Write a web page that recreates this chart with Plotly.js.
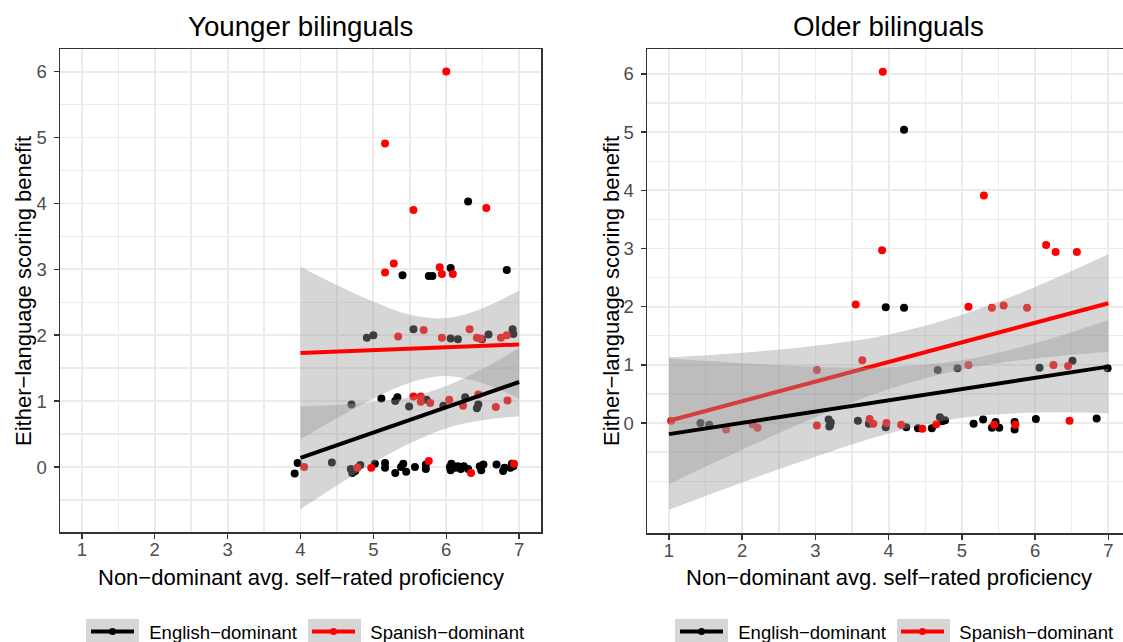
<!DOCTYPE html>
<html><head><meta charset="utf-8">
<script src="https://cdn.plot.ly/plotly-3.0.1.min.js"></script>
<style>html,body{margin:0;padding:0;background:#fff}#chart{width:1123px;height:642px}</style>
</head><body><div id="chart"></div>
<script>
// ---------- Data ----------
const groupNames = ['English\u2212dominant', 'Spanish\u2212dominant'];
const panelTitles = ['Younger bilinguals', 'Older bilinguals'];
const xTitle = 'Non\u2212dominant avg. self\u2212rated proficiency';
const yTitle = 'Either\u2212language scoring benefit';
const xTicks = [1, 2, 3, 4, 5, 6, 7];
const yTicks = [0, 1, 2, 3, 4, 5, 6];

// Younger bilinguals, English-dominant points
const youngEngX = [6.30, 5.40, 5.76, 5.81, 6.06, 6.83,
  4.91, 5.00, 5.55, 6.06, 6.16, 6.49, 6.58, 6.91, 6.92,
  4.70, 5.11, 5.30, 5.33, 5.49, 5.73, 5.96, 6.26, 6.42, 6.44,
  3.96, 3.92, 4.43, 4.69, 4.71, 4.82, 4.75, 5.02, 5.16, 5.16, 5.30, 5.41, 5.38, 5.45, 5.57, 5.72, 5.72,
  6.05, 6.07, 6.06, 6.10, 6.13, 6.16, 6.20, 6.24, 6.30, 6.48, 6.51, 6.46, 6.69, 6.78, 6.80, 6.90, 6.92, 6.88];
const youngEngY = [4.03, 2.91, 2.90, 2.90, 3.02, 2.99,
  1.96, 2.00, 2.09, 1.95, 1.94, 1.94, 2.01, 2.09, 2.02,
  0.95, 1.04, 1.00, 1.06, 0.92, 1.02, 0.93, 1.06, 0.89, 0.95,
  0.06, -0.10, 0.07, -0.03, -0.09, 0.03, -0.06, 0.05, 0.06, -0.01, -0.09, 0.05, 0.00, -0.07, 0.00, 0.04, -0.03,
  0.00, 0.05, -0.05, 0.01, -0.01, 0.01, -0.03, 0.01, -0.03, -0.05, 0.04, 0.01, 0.04, -0.06, -0.01, 0.05, 0.01, -0.01];

// Younger bilinguals, Spanish-dominant points
const youngSpaX = [6.00, 5.16, 5.55, 6.55, 5.28, 5.16, 5.91, 5.94, 6.09,
  5.34, 5.69, 5.94, 6.32, 6.42, 6.47, 6.75, 6.83,
  5.55, 5.65, 5.65, 5.78, 6.04, 6.23, 6.44, 6.68, 6.84,
  4.05, 4.78, 4.97, 5.76, 6.34, 6.93];
const youngSpaY = [6.00, 4.91, 3.90, 3.93, 3.09, 2.95, 3.03, 2.93, 2.93,
  1.98, 2.08, 1.96, 2.09, 1.96, 1.95, 1.96, 2.00,
  1.07, 1.07, 0.99, 0.97, 1.02, 0.93, 1.10, 0.91, 1.01,
  0.00, -0.01, -0.01, 0.09, -0.09, 0.05];

// Older bilinguals, English-dominant points
const oldEngX = [4.21, 3.96, 4.21, 4.67, 4.94, 6.06, 6.51, 6.99,
  1.43, 1.55, 3.18, 3.20, 3.21, 3.19, 3.58, 3.73, 3.96, 4.24, 4.40, 4.59, 4.70, 4.73, 4.77,
  5.16, 5.29, 5.41, 5.46, 5.51, 5.72, 5.72, 6.01, 6.84];
const oldEngY = [5.04, 1.99, 1.98, 0.91, 0.94, 0.95, 1.07, 0.94,
  0.00, -0.03, 0.06, -0.04, 0.01, -0.06, 0.04, -0.01, -0.07, -0.07, -0.09, -0.09, 0.10, 0.03, 0.05,
  -0.01, 0.06, -0.08, 0.02, -0.08, 0.02, -0.11, 0.07, 0.08];

// Older bilinguals, Spanish-dominant points
const oldSpaX = [3.92, 5.30, 3.91, 6.15, 6.28, 6.57,
  3.55, 5.09, 5.41, 5.57, 5.89,
  3.02, 3.64, 5.09, 6.25, 6.45,
  1.03, 1.78, 2.14, 2.21, 3.02, 3.74, 3.79, 3.97, 4.17, 4.46, 4.65, 5.44, 5.73, 6.47];
const oldSpaY = [6.04, 3.91, 2.97, 3.06, 2.94, 2.94,
  2.04, 2.00, 1.98, 2.02, 1.98,
  0.91, 1.08, 1.00, 1.00, 0.98,
  0.04, -0.11, -0.02, -0.08, -0.04, 0.07, -0.01, 0.00, -0.03, -0.10, -0.02, -0.03, -0.03, 0.04];

// Fitted lines (endpoints) and confidence bands
const youngFitX = [4, 7];
const youngEngFit = [0.14, 1.29];
const youngSpaFit = [1.73, 1.86];
const youngBandX = [4, 4.5, 5, 5.5, 6, 6.5, 7];
const youngEngLo = [-0.64, -0.28, 0.06, 0.36, 0.59, 0.71, 0.77];
const youngEngHi = [0.92, 0.94, 0.99, 1.06, 1.23, 1.49, 1.81];
const youngSpaLo = [0.42, 0.74, 1.04, 1.28, 1.38, 1.27, 1.04];
const youngSpaHi = [3.04, 2.76, 2.51, 2.31, 2.26, 2.41, 2.68];

const oldFitX = [1, 7];
const oldEngFit = [-0.19, 0.97];
const oldSpaFit = [0.04, 2.06];
const oldBandX = [1, 2, 3, 4, 5, 6, 7];
const oldEngLo = [-1.49, -1.02, -0.58, -0.18, 0.09, 0.18, 0.17];
const oldEngHi = [1.11, 1.03, 0.97, 0.96, 1.08, 1.37, 1.77];
const oldSpaLo = [-1.05, -0.46, 0.10, 0.58, 0.92, 1.11, 1.22];
const oldSpaHi = [1.13, 1.21, 1.33, 1.52, 1.86, 2.34, 2.90];

// ---------- Styling ----------
const W = 1123, H = 642;
const FONT = 'Liberation Sans, Arial, Helvetica, sans-serif';
const ENG = '#000000', SPA = '#FF0000';
const BAND = 'rgba(153,153,153,0.4)';
const GRID = '#EBEBEB';
const px = v => v / W;
const py = v => 1 - v / H;
const NB = '\u00A0';

function pts(x, y, color, xa, ya) {
  return {type: 'scatter', mode: 'markers', x: x, y: y, xaxis: xa, yaxis: ya,
    marker: {color: color, size: 8, line: {width: 0}}, showlegend: false, hoverinfo: 'skip'};
}
function band(x, lo, hi, xa, ya) {
  return [
    {type: 'scatter', mode: 'lines', x: x, y: lo, xaxis: xa, yaxis: ya,
      line: {width: 0, shape: 'spline', smoothing: 1}, showlegend: false, hoverinfo: 'skip'},
    {type: 'scatter', mode: 'lines', x: x, y: hi, xaxis: xa, yaxis: ya,
      line: {width: 0, shape: 'spline', smoothing: 1}, fill: 'tonexty', fillcolor: BAND,
      showlegend: false, hoverinfo: 'skip'}
  ];
}
function fit(x, y, color, xa, ya) {
  return {type: 'scatter', mode: 'lines', x: x, y: y, xaxis: xa, yaxis: ya,
    line: {color: color, width: 4}, showlegend: false, hoverinfo: 'skip'};
}
function key(name, color, xa, ya, leg) {
  return {type: 'scatter', mode: 'lines+markers', x: [null], y: [null], xaxis: xa, yaxis: ya,
    name: name, legend: leg, line: {color: color, width: 4}, marker: {color: color, size: 7}};
}

const traces = [
  pts(youngEngX, youngEngY, ENG, 'x', 'y'),
  pts(youngSpaX, youngSpaY, SPA, 'x', 'y'),
  ...band(youngBandX, youngSpaLo, youngSpaHi, 'x', 'y'),
  fit(youngFitX, youngSpaFit, SPA, 'x', 'y'),
  ...band(youngBandX, youngEngLo, youngEngHi, 'x', 'y'),
  fit(youngFitX, youngEngFit, ENG, 'x', 'y'),
  pts(oldEngX, oldEngY, ENG, 'x2', 'y2'),
  pts(oldSpaX, oldSpaY, SPA, 'x2', 'y2'),
  ...band(oldBandX, oldSpaLo, oldSpaHi, 'x2', 'y2'),
  fit(oldFitX, oldSpaFit, SPA, 'x2', 'y2'),
  ...band(oldBandX, oldEngLo, oldEngHi, 'x2', 'y2'),
  fit(oldFitX, oldEngFit, ENG, 'x2', 'y2'),
  key(NB + NB + groupNames[0] + NB, ENG, 'x', 'y', 'legend'),
  key(NB + NB + groupNames[1], SPA, 'x', 'y', 'legend'),
  key(NB + NB + groupNames[0] + NB, ENG, 'x2', 'y2', 'legend2'),
  key(NB + NB + groupNames[1], SPA, 'x2', 'y2', 'legend2')
];

const minorX = [1.5, 2.5, 3.5, 4.5, 5.5, 6.5];
const minorY1 = [-0.5, 0.5, 1.5, 2.5, 3.5, 4.5, 5.5];
const minorY2 = [-1, -0.5, 0.5, 1.5, 2.5, 3.5, 4.5, 5.5];
const TICKFONT = {family: FONT, size: 18.5, color: '#4D4D4D'};

function xaxis(domain, range, anchor) {
  return {domain: domain, range: range, anchor: anchor, tickmode: 'array', tickvals: xTicks, ticktext: xTicks.map(String),
    ticks: 'outside', ticklen: 5, tickwidth: 1.5, tickcolor: '#333333',
    tickfont: TICKFONT, ticklabelstandoff: -5,
    showgrid: true, gridcolor: GRID, gridwidth: 1.8, zeroline: false,
    minor: {tickmode: 'array', tickvals: minorX, showgrid: true, gridcolor: GRID, gridwidth: 1.4, ticks: ''},
    showline: true, linecolor: '#333333', linewidth: 1.5, mirror: true, automargin: false, fixedrange: true};
}
function yaxis(domain, range, minor, anchor, mirror) {
  return {domain: domain, range: range, anchor: anchor, tickmode: 'array', tickvals: yTicks, ticktext: yTicks.map(String),
    ticks: 'outside', ticklen: 5, tickwidth: 1.5, tickcolor: '#333333',
    tickfont: TICKFONT, ticklabelstandoff: 3,
    showgrid: true, gridcolor: GRID, gridwidth: 1.8, zeroline: false,
    minor: {tickmode: 'array', tickvals: minor, showgrid: true, gridcolor: GRID, gridwidth: 1.4, ticks: ''},
    showline: true, linecolor: '#333333', linewidth: 1.5, mirror: mirror, automargin: false, fixedrange: true};
}

const ann = (text, x, y, size, angle) => ({text: text, x: x, y: y, xref: 'paper', yref: 'paper',
  xanchor: 'center', yanchor: 'middle', showarrow: false, textangle: angle || 0,
  font: {family: FONT, size: size, color: '#000000'}});

const legendBase = {orientation: 'h', xanchor: 'left', yanchor: 'top', bgcolor: 'rgba(0,0,0,0)',
  borderwidth: 0, font: {family: FONT, size: 18.5, color: '#000000'}, itemwidth: 43, itemclick: false,
  itemdoubleclick: false, tracegroupgap: 0, traceorder: 'normal'};

const keyBox = (x0, x1) => ({type: 'rect', xref: 'paper', yref: 'paper', x0: px(x0), x1: px(x1),
  y0: py(619), y1: py(672), fillcolor: '#D6D6D6', line: {width: 0}, layer: 'above'});

const layout = {
  width: W, height: H, margin: {l: 0, r: 0, t: 0, b: 0, pad: 0, autoexpand: false},
  paper_bgcolor: '#FFFFFF', plot_bgcolor: '#FFFFFF',
  showlegend: true, hovermode: false,
  xaxis: xaxis([px(60), px(541)], [0.7, 7.3], 'y'),
  yaxis: yaxis([py(532), py(49)], [-0.986, 6.343], minorY1, 'x', true),
  xaxis2: xaxis([px(647), 1], [0.7, 7.2], 'y2'),
  yaxis2: yaxis([py(533), py(49)], [-1.89, 6.43], minorY2, 'x2', false),
  legend: Object.assign({}, legendBase, {x: px(86), y: py(613)}),
  legend2: Object.assign({}, legendBase, {x: px(675), y: py(613)}),
  shapes: [keyBox(86, 139), keyBox(308, 361), keyBox(675, 728), keyBox(897, 950)],
  annotations: [
    ann(panelTitles[0], px(300.5), py(27), 27.7),
    ann(panelTitles[1], px(888.5), py(27), 27.7),
    ann(xTitle, px(300.5), py(577), 22),
    ann(xTitle, px(888.5), py(577), 22),
    ann(yTitle, px(23), py(291), 22, -90),
    ann(yTitle, px(611), py(291), 22, -90)
  ]
};

Plotly.newPlot('chart', traces, layout, {staticPlot: true, displayModeBar: false});
</script></body></html>
